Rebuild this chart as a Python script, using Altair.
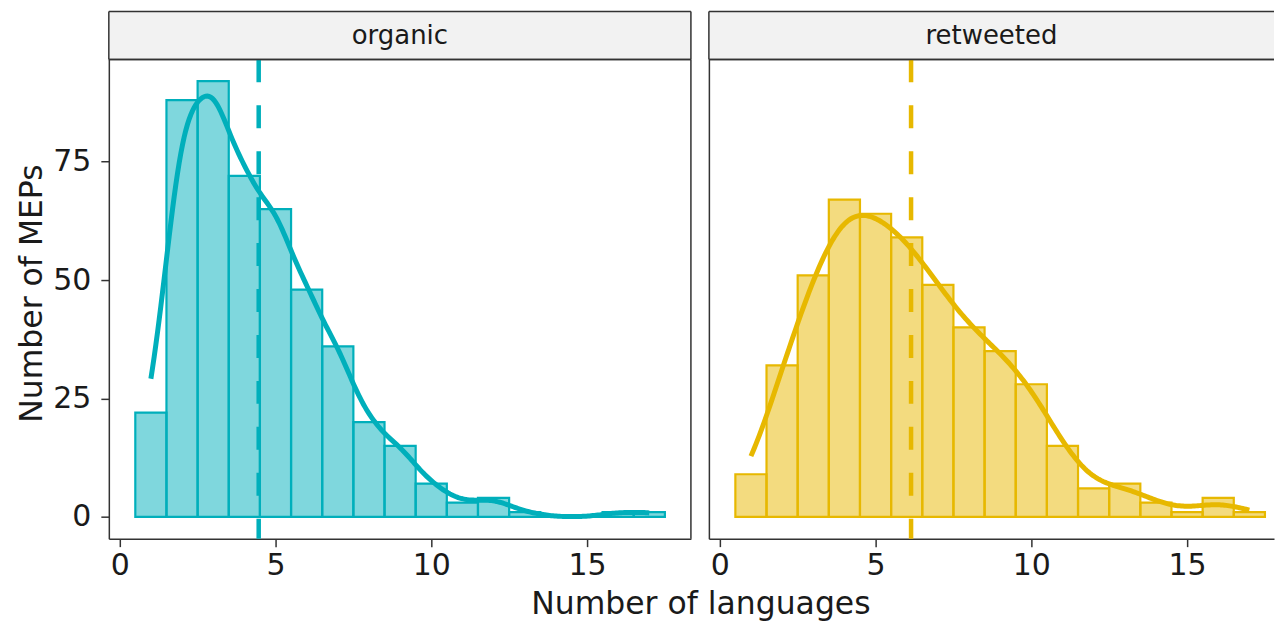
import altair as alt
import numpy as np
import pandas as pd

# Histogram of how many languages each MEP tweets in, split by tweet type
languages = list(range(1, 18))
organic_counts = [22, 88, 92, 72, 65, 48, 36, 20, 15, 7, 3, 4, 1, 0, 0, 1, 1]
retweeted_counts = [9, 32, 51, 67, 64, 59, 49, 40, 35, 28, 15, 6, 7, 3, 1, 4, 1]
panel_names = ["organic", "retweeted"]
panel_colors = ["#00AFBB", "#E7B800"]
y_ticks = [0, 25, 50, 75]
x_ticks = [0, 5, 10, 15]

# layout / style settings
FONT = "DejaVu Sans"
X_LO = -0.35
PX_PER_UNIT = 31.2
LEFT_W = 583
RIGHT_W = 566
PANEL_H = 480
STRIP_H = 48
Y_DOMAIN = [-4.6, 96.6]
EDGE = "#333333"


def nrd0(x):
    """Silverman's rule-of-thumb bandwidth (R's bw.nrd0)."""
    x = np.asarray(x, dtype=float)
    q1, q3 = np.percentile(x, [25, 75])
    lo = min(np.std(x, ddof=1), (q3 - q1) / 1.34)
    return 0.9 * lo * len(x) ** -0.2


def border(**enc):
    return (
        alt.Chart(pd.DataFrame({"k": [0]}))
        .mark_rule(color=EDGE, strokeWidth=1.5)
        .encode(**enc)
    )


def strip(name, width, right_edge):
    label = (
        alt.Chart(pd.DataFrame({"label": [name]}))
        .mark_text(font=FONT, fontSize=26, color="#1a1a1a", baseline="middle")
        .encode(text="label:N", x=alt.value(width / 2), y=alt.value(STRIP_H / 2 + 1))
    )
    layers = [
        label,
        border(y=alt.value(0)),
        border(x=alt.value(0)),
        border(y=alt.value(STRIP_H)),
    ]
    if right_edge:
        layers.append(border(x=alt.value(width)))
    return alt.layer(*layers).properties(
        width=width, height=STRIP_H, view=alt.ViewBackground(fill="#F2F2F2", stroke=None)
    )


def panel(counts, color, width, is_left):
    bars_df = pd.DataFrame({"languages": languages, "count": counts})
    obs = pd.DataFrame({"languages": np.repeat(languages, counts)})
    mean_df = pd.DataFrame({"mean": [obs["languages"].mean()]})
    bw = nrd0(obs["languages"])

    xscale = alt.Scale(domain=[X_LO, X_LO + width / PX_PER_UNIT], nice=False, zero=False)
    yscale = alt.Scale(domain=Y_DOMAIN, nice=False, zero=False)

    xaxis = alt.Axis(values=x_ticks, title=None)
    if is_left:
        yaxis = alt.Axis(
            values=y_ticks, title="Number of MEPs", titleX=-67, titleY=234,
            titleAlign="center", titleBaseline="alphabetic", titleAngle=270,
        )
    else:
        yaxis = alt.Axis(values=y_ticks, title=None, labels=False, ticks=False)

    bars = (
        alt.Chart(bars_df)
        .transform_calculate(lo="datum.languages - 0.5", hi="datum.languages + 0.5")
        .mark_rect(fill=color, fillOpacity=0.5, stroke=color, strokeWidth=2.2)
        .encode(
            x=alt.X("lo:Q", scale=xscale, axis=xaxis),
            x2="hi:Q",
            y=alt.Y("count:Q", scale=yscale, axis=yaxis),
            y2=alt.datum(0),
        )
    )
    density = (
        alt.Chart(obs)
        .transform_density(
            "languages", as_=["languages", "smoothed"], bandwidth=bw,
            extent=[1, 17], counts=True, steps=300,
        )
        .mark_line(color=color, strokeWidth=5)
        .encode(
            x=alt.X("languages:Q", scale=xscale, axis=xaxis),
            y=alt.Y("smoothed:Q", scale=yscale, axis=yaxis),
        )
    )
    mean_rule = (
        alt.Chart(mean_df)
        .mark_rule(color=color, strokeWidth=4.5, strokeDash=[23, 23])
        .encode(x=alt.X("mean:Q", scale=xscale, axis=xaxis))
    )
    layers = [bars, density, mean_rule, border(y=alt.value(0))]
    if is_left:
        layers.append(border(x=alt.value(width)))
    return alt.layer(*layers).properties(width=width, height=PANEL_H)


columns = []
for i, (name, counts, color) in enumerate(
    zip(panel_names, [organic_counts, retweeted_counts], panel_colors)
):
    is_left = i == 0
    width = LEFT_W if is_left else RIGHT_W
    columns.append(
        alt.vconcat(
            strip(name, width, right_edge=is_left),
            panel(counts, color, width, is_left),
            spacing=0,
            bounds="flush",
        )
    )

chart = (
    alt.hconcat(*columns, spacing=16)
    .properties(
        padding={"left": 17, "top": 10, "right": 0, "bottom": 0},
        title=alt.TitleParams(
            "Number of languages",
            orient="bottom",
            anchor="start",
            align="center",
            dx=685,
            offset=8,
            font=FONT,
            fontSize=31.5,
            fontWeight="normal",
            color="#1a1a1a",
        ),
    )
    .configure_view(stroke=None)
    .configure_axis(
        grid=False,
        domainColor=EDGE,
        domainWidth=1.5,
        tickColor=EDGE,
        tickWidth=1.5,
        tickSize=8,
        labelFont=FONT,
        labelFontSize=30,
        labelColor="#1a1a1a",
        titleFont=FONT,
        titleFontSize=31.5,
        titleFontWeight="normal",
        titleColor="#1a1a1a",
    )
    .configure_axisX(labelPadding=4)
    .configure_axisY(labelPadding=10)
)

chart.save("out.html", embed_options={"renderer": "svg", "actions": False})
